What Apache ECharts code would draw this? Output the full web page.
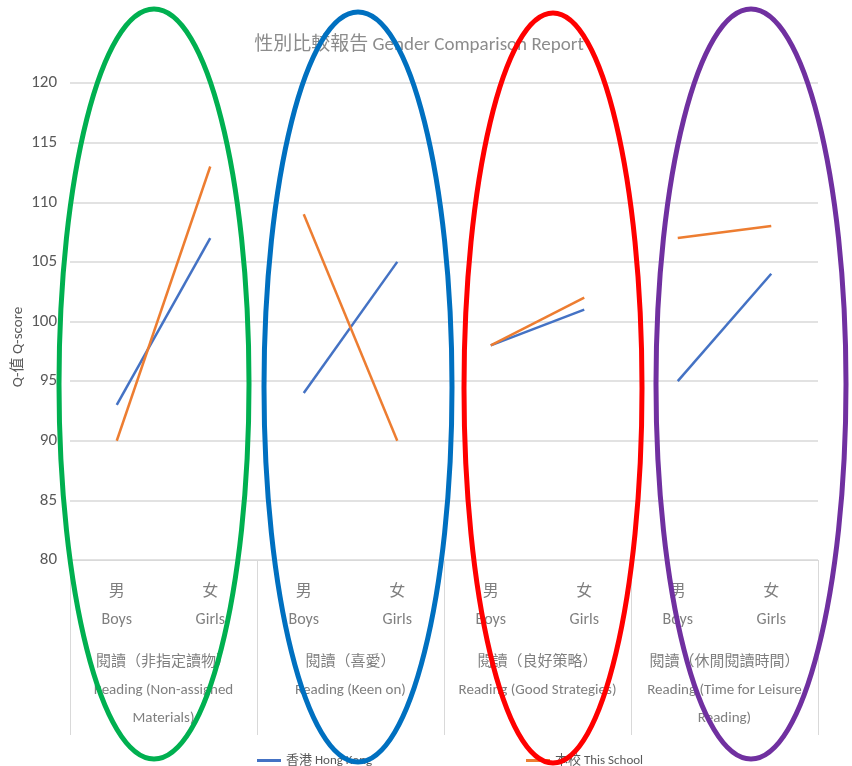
<!DOCTYPE html>
<html>
<head>
<meta charset="utf-8">
<script src="https://cdn.jsdelivr.net/npm/echarts@6/dist/echarts.min.js"></script>
<style>html,body{margin:0;padding:0;background:#fff;}#c{width:852px;height:766px;}</style>
</head>
<body>
<div id="c"></div>
<script>
var genderLabels = ['男\nBoys', '女\nGirls', '男\nBoys', '女\nGirls', '男\nBoys', '女\nGirls', '男\nBoys', '女\nGirls'];
var groupLabels = [
  '閱讀（非指定讀物）\nReading (Non-assigned\nMaterials)',
  '閱讀（喜愛）\nReading (Keen on)',
  '閱讀（良好策略）\nReading (Good Strategies)',
  '閱讀（休閒閱讀時間）\nReading (Time for Leisure\nReading)'
];
var hongKong = [[93, 107], [94, 105], [98, 101], [95, 104]];
var thisSchool = [[90, 113], [109, 90], [98, 102], [107, 108]];
var yTicks = {min: 80, max: 120, interval: 5};
var seriesNames = ['香港 Hong Kong', '本校 This School'];

var font = "Carlito, 'Liberation Sans Narrow', 'Liberation Sans', 'Noto Sans CJK TC', sans-serif";
var series = [];
function addSeries(name, groups, color) {
  groups.forEach(function (g, i) {
    series.push({
      name: name, type: 'line', symbol: 'none', xAxisIndex: 0,
      lineStyle: {color: color, width: 2.5}, itemStyle: {color: color},
      data: [[2 * i, g[0]], [2 * i + 1, g[1]]], z: 3
    });
  });
}
addSeries(seriesNames[0], hongKong, '#4472c4');
addSeries(seriesNames[1], thisSchool, '#ed7d31');

var ellipses = [
  {cx: 154, cy: 384, rx: 95, ry: 375, c: '#00b050'},
  {cx: 358, cy: 387, rx: 94, ry: 375, c: '#0070c0'},
  {cx: 553, cy: 388, rx: 89, ry: 375, c: '#ff0000'},
  {cx: 751, cy: 384, rx: 95, ry: 375, c: '#7030a0'}
];
var graphics = ellipses.map(function (e) {
  return {type: 'ellipse', shape: {cx: e.cx, cy: e.cy, rx: e.rx, ry: e.ry}, z: 100,
    style: {fill: null, stroke: e.c, lineWidth: 5}};
});
graphics.push({type: 'text', x: 18, y: 347, rotation: Math.PI / 2, z: 10,
  style: {text: 'Q-值 Q-score', fill: '#595959', font: '15px ' + font, textAlign: 'center', textVerticalAlign: 'middle'}});

var chart = echarts.init(document.getElementById('c'));
chart.setOption({
  animation: false,
  title: {text: '性別比較報告 Gender Comparison Report', left: 414, top: 31, textAlign: 'center',
    textStyle: {color: '#8c8c8c', fontSize: 19, fontWeight: 'normal', fontFamily: font}},
  legend: [
    {data: [seriesNames[0]], left: 252, top: 749, itemWidth: 24, itemHeight: 3, icon: 'rect',
      textStyle: {color: '#595959', fontSize: 13, fontFamily: font}},
    {data: [seriesNames[1]], left: 521, top: 749, itemWidth: 24, itemHeight: 3, icon: 'rect',
      textStyle: {color: '#595959', fontSize: 13, fontFamily: font}}
  ],
  grid: {left: 70, right: 34, top: 83, bottom: 206},
  xAxis: [
    {type: 'category', data: genderLabels, boundaryGap: true, position: 'bottom',
      axisLine: {show: true, lineStyle: {color: '#d9d9d9'}}, axisTick: {show: false},
      axisLabel: {interval: 0, margin: 18, color: '#7f7f7f', fontSize: 16, lineHeight: 28, fontFamily: font}},
    {type: 'category', data: groupLabels, boundaryGap: true, position: 'bottom',
      axisLine: {show: false}, axisTick: {show: true, length: 175, lineStyle: {color: '#d9d9d9'}},
      axisLabel: {interval: 0, margin: 88, color: '#7f7f7f', fontSize: 15, lineHeight: 28, fontFamily: font}}
  ],
  yAxis: {type: 'value', min: yTicks.min, max: yTicks.max, interval: yTicks.interval,
    axisLine: {show: false}, axisTick: {show: false},
    splitLine: {lineStyle: {color: '#d9d9d9', width: 1.5}},
    axisLabel: {color: '#595959', fontSize: 17, margin: 13, fontFamily: font}},
  series: series,
  graphic: graphics
});
</script>
</body>
</html>
